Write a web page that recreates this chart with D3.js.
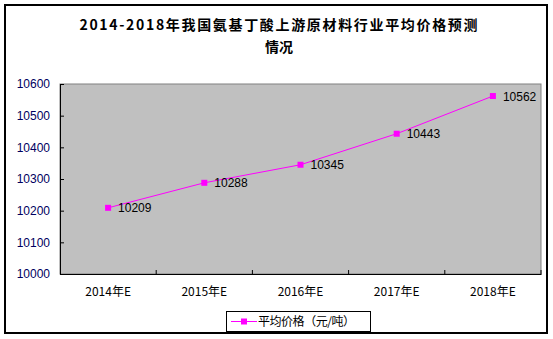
<!DOCTYPE html>
<html><head><meta charset="utf-8">
<script src="https://cdn.jsdelivr.net/npm/d3@7"></script>
<style>body{margin:0;background:#fff}svg{display:block}</style>
</head><body>
<script>
const categories = ["2014年E","2015年E","2016年E","2017年E","2018年E"];
const values = [10209,10288,10345,10443,10562];
const yTicks = [10000,10100,10200,10300,10400,10500,10600];
const seriesName = "平均价格（元/吨）";
const titleLines = ["2014-2018年我国氨基丁酸上游原材料行业平均价格预测","情况"];

const W=553,H=339;
const svg=d3.select("body").append("svg").attr("width",W).attr("height",H);
svg.append("rect").attr("x",5).attr("y",5).attr("width",542).attr("height",328)
  .attr("fill","#fff").attr("stroke","#000").attr("stroke-width",2);

const L=60,R=541,T=84,B=274;
svg.append("rect").attr("x",L).attr("y",T).attr("width",R-L).attr("height",B-T)
  .attr("fill","#c0c0c0").attr("stroke","#808080").attr("stroke-width",1);

const x=d3.scaleBand().domain(categories).range([L,R]);
const y=d3.scaleLinear().domain([10000,10600]).range([B,T]);

// title
svg.append("text").attr("x",278.5).attr("y",30).attr("text-anchor","middle")
  .attr("font-family","'Noto Sans CJK SC'").attr("font-weight","bold").attr("font-size",14)
  .attr("textLength",398).attr("lengthAdjust","spacing").text(titleLines[0]);
svg.append("text").attr("x",279).attr("y",52).attr("text-anchor","middle")
  .attr("font-family","'Noto Sans CJK SC'").attr("font-weight","bold").attr("font-size",14)
  .text(titleLines[1]);

// y axis
const ya=svg.append("g").attr("transform",`translate(${L},0)`)
  .call(d3.axisLeft(y).tickValues(yTicks).tickSize(-4).tickPadding(10).tickFormat(d3.format("d")));
ya.select(".domain").attr("stroke","#000");
ya.selectAll(".tick line").attr("stroke","#000");
ya.selectAll("text").attr("font-family","Arial, 'Liberation Sans'").attr("font-size",12).attr("fill","#000060");

// x axis
const xa=svg.append("g").attr("transform",`translate(0,${B})`)
  .call(d3.axisBottom(x).tickSize(0).tickPadding(13));
xa.select(".domain").attr("stroke","#000");
xa.selectAll("text").attr("font-family","'Noto Sans CJK SC'").attr("font-size",12).attr("fill","#000");
// boundary ticks inward
svg.append("g").selectAll("line").data(categories).join("line")
  .attr("x1",d=>x(d)+x.bandwidth()).attr("x2",d=>x(d)+x.bandwidth())
  .attr("y1",B).attr("y2",B-4).attr("stroke","#000");

const cx=(d,i)=>x(categories[i])+x.bandwidth()/2;
const line=d3.line().x((d,i)=>cx(d,i)).y(d=>y(d));
svg.append("path").datum(values).attr("d",line).attr("fill","none").attr("stroke","#ff00ff").attr("stroke-width",1);
svg.append("g").selectAll("rect").data(values).join("rect")
  .attr("x",(d,i)=>cx(d,i)-3).attr("y",d=>y(d)-3).attr("width",6).attr("height",6).attr("fill","#ff00ff");
svg.append("g").selectAll("text").data(values).join("text")
  .attr("x",(d,i)=>cx(d,i)+10).attr("y",d=>y(d)+4.5)
  .attr("font-family","Arial, 'Liberation Sans'").attr("font-size",12).attr("fill","#000").text(d=>d);

// legend
const lg=svg.append("g");
lg.append("rect").attr("x",226.5).attr("y",311.5).attr("width",144).attr("height",20).attr("fill","#fff").attr("stroke","#000");
lg.append("line").attr("x1",231).attr("x2",257).attr("y1",321.5).attr("y2",321.5).attr("stroke","#ff00ff");
lg.append("rect").attr("x",241).attr("y",318.5).attr("width",6).attr("height",6).attr("fill","#ff00ff");
lg.append("text").attr("x",258).attr("y",326).attr("font-family","'Noto Sans CJK SC'").attr("font-size",12)
  .attr("textLength",97).attr("lengthAdjust","spacing")
  .attr("fill","#000").text(seriesName);
</script>
</body></html>
